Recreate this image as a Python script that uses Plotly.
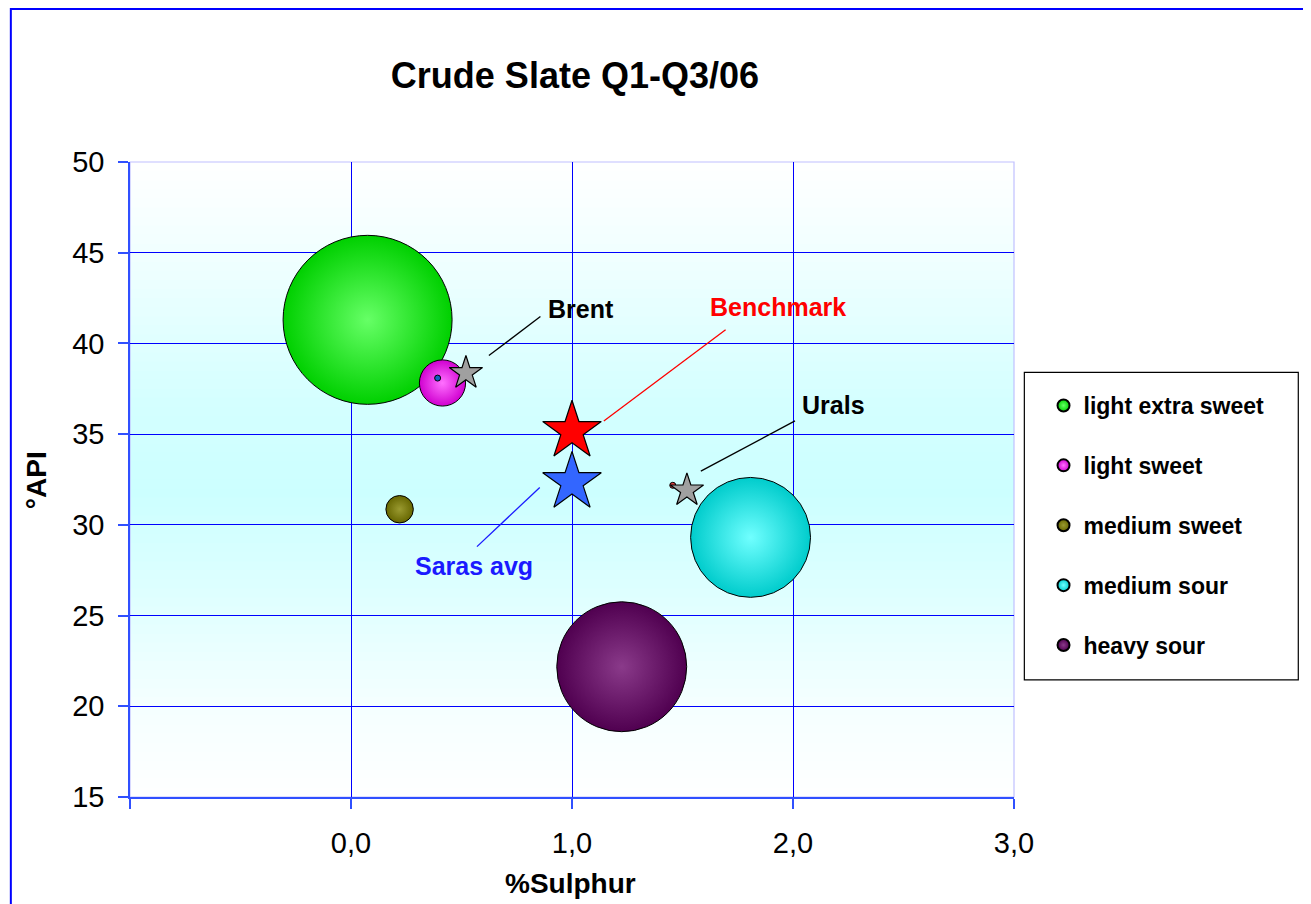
import plotly.graph_objects as go

# ---- data ----
categories = ["light extra sweet", "light sweet", "medium sweet", "medium sour", "heavy sour"]
sulphur = [0.075, 0.414, 0.220, 1.808, 1.225]
api = [41.30, 37.82, 30.86, 29.31, 22.18]
share = [45.5, 3.4, 1.2, 22.9, 26.9]

ref_names = ["Brent", "Benchmark", "Urals", "Saras avg"]
ref_sulphur = [0.52, 1.0, 1.52, 1.0]
ref_api = [38.37, 35.17, 31.90, 32.35]

tiny_names = ["Brent slate", "Urals slate"]
tiny_sulphur = [0.392, 1.456]
tiny_api = [38.09, 32.18]

x_tickvals = [-1, 0, 1, 2, 3]
x_ticktext = ["", "0,0", "1,0", "2,0", "3,0"]
y_tickvals = [15, 20, 25, 30, 35, 40, 45, 50]

# ---- styles ----
FONT = "Liberation Sans, Arial, sans-serif"
bubble_edges = ["#00d000", "#d000d0", "#666600", "#00cccc", "#500050"]
bubble_centers = ["#66ff66", "#ff70ff", "#9a9a30", "#70ffff", "#8a3a8a"]
ref_colors = ["#a0a0a0", "#ff0000", "#a0a0a0", "#3366ff"]
ref_sizes = [25, 44, 25, 44]
tiny_colors = ["#1060c0", "#e04040"]

# callout geometry: (label, label_x, label_y, line from (x0,y0) to (x1,y1), color)
callouts = [
    ("Brent", 1.039, 41.91, 0.624, 39.33, 0.857, 41.48, "#000000"),
    ("Benchmark", 1.931, 41.99, 1.144, 35.73, 1.695, 40.75, "#ff0000"),
    ("Urals", 2.181, 36.60, 1.583, 32.96, 2.009, 35.73, "#000000"),
    ("Saras avg", 0.555, 27.76, 0.570, 28.80, 0.854, 32.06, "#1a1aff"),
]

# plotly area mode: diameter = sqrt(2*v/sizeref)
sizeref = 2 * 45.5 / 169.0 ** 2

fig = go.Figure()

for i, name in enumerate(categories):
    fig.add_trace(go.Scatter(
        x=[sulphur[i]], y=[api[i]], mode="markers", name=name,
        legendgroup=name,
        marker=dict(size=[share[i]], sizemode="area", sizeref=sizeref,
                    color=bubble_edges[i],
                    gradient=dict(type="radial", color=bubble_centers[i]),
                    line=dict(color="black", width=1), opacity=1),
    ))

fig.add_trace(go.Scatter(
    x=tiny_sulphur, y=tiny_api, mode="markers", showlegend=False, text=tiny_names,
    marker=dict(size=6, color=tiny_colors, opacity=1, line=dict(color="black", width=1)),
))

fig.add_trace(go.Scatter(
    x=ref_sulphur, y=ref_api, mode="markers", showlegend=False, text=ref_names,
    marker=dict(symbol="star", size=ref_sizes, color=ref_colors, opacity=1,
                line=dict(color="black", width=1.2)),
))

# gradient plot-area background (white -> cyan -> white)
stops = [(0.0, (255, 255, 255)), (0.15, (244, 255, 255)), (0.32, (222, 255, 255)),
         (0.48, (204, 255, 255)), (0.62, (212, 255, 255)), (0.85, (240, 255, 255)),
         (1.0, (255, 255, 255))]

def col_at(t):
    for (a, ca), (b, cb) in zip(stops[:-1], stops[1:]):
        if a <= t <= b:
            f = (t - a) / (b - a)
            return "rgb(%d,%d,%d)" % tuple(round(ca[k] + (cb[k] - ca[k]) * f) for k in range(3))
    return "white"

N = 70
for k in range(N):
    t0, t1 = k / N, (k + 1) / N
    fig.add_shape(type="rect", xref="x domain", yref="y domain", x0=0, x1=1,
                  y0=t0, y1=t1 + 0.002, fillcolor=col_at((t0 + t1) / 2),
                  line=dict(width=0), layer="below")

# plot-area light border (top / right)
fig.add_shape(type="rect", xref="x domain", yref="y domain", x0=0, x1=1, y0=0, y1=1,
              line=dict(color="#c0c0ff", width=1.2), layer="below")

# callouts
for lab, lx, ly, x0, y0, x1, y1, c in callouts:
    fig.add_shape(type="line", xref="x", yref="y", x0=x0, y0=y0, x1=x1, y1=y1,
                  line=dict(color=c, width=1.3))
    fig.add_annotation(x=lx, y=ly, xref="x", yref="y", text="<b>%s</b>" % lab,
                       showarrow=False, xanchor="center", yanchor="middle",
                       font=dict(family=FONT, size=25, color=c))

# legend frame
fig.add_shape(type="rect", xref="paper", yref="paper", x0=1.0117, x1=1.3216,
              y0=0.1844, y1=0.6687, line=dict(color="black", width=1.2),
              fillcolor="white", layer="below")

# outer chart border
fig.add_shape(type="rect", xref="paper", yref="paper", x0=-0.1348, x1=1.40,
              y0=-0.22, y1=1.2409, line=dict(color="#0000ff", width=2))

# axis titles
fig.add_annotation(x=0.4988, y=-0.1355, xref="paper", yref="paper", text="<b>%Sulphur</b>",
                   showarrow=False, xanchor="center", yanchor="middle",
                   font=dict(family=FONT, size=28, color="black"))
fig.add_annotation(x=-0.1059, y=0.4996, xref="paper", yref="paper", text="<b>°API</b>",
                   showarrow=False, textangle=-90, xanchor="center", yanchor="middle",
                   font=dict(family=FONT, size=28, color="black"))

fig.update_layout(
    width=1303, height=896,
    margin=dict(l=122, r=297, t=154, b=107),
    paper_bgcolor="white", plot_bgcolor="white",
    title=dict(text="<b>Crude Slate Q1-Q3/06</b>", x=0.4351, xanchor="center",
               y=0.9252, yanchor="middle", font=dict(family=FONT, size=36, color="black")),
    font=dict(family=FONT, color="black"),
    legend=dict(x=1.0334, xanchor="left", y=0.6504, yanchor="top",
                bgcolor="rgba(0,0,0,0)", borderwidth=0,
                font=dict(family=FONT, size=23, color="black", weight="bold"),
                itemsizing="constant", tracegroupgap=27),
    showlegend=True,
)

fig.update_xaxes(range=[-1, 3], tickvals=x_tickvals, ticktext=x_ticktext,
                 showgrid=True, gridcolor="#0000ff", gridwidth=1.3,
                 showline=True, linecolor="#3050ff", linewidth=1.5,
                 ticks="outside", ticklen=10, tickcolor="#3050ff", tickwidth=1.5,
                 tickfont=dict(family=FONT, size=29, color="black"),
                 zeroline=False, ticklabelstandoff=9)
fig.update_yaxes(range=[15, 50], tickvals=y_tickvals,
                 showgrid=True, gridcolor="#0000ff", gridwidth=1.3,
                 showline=True, linecolor="#3050ff", linewidth=1.5,
                 ticks="outside", ticklen=10, tickcolor="#3050ff", tickwidth=1.5,
                 tickfont=dict(family=FONT, size=29, color="black"),
                 zeroline=False, ticklabelstandoff=8)

fig.write_html("out.html")
